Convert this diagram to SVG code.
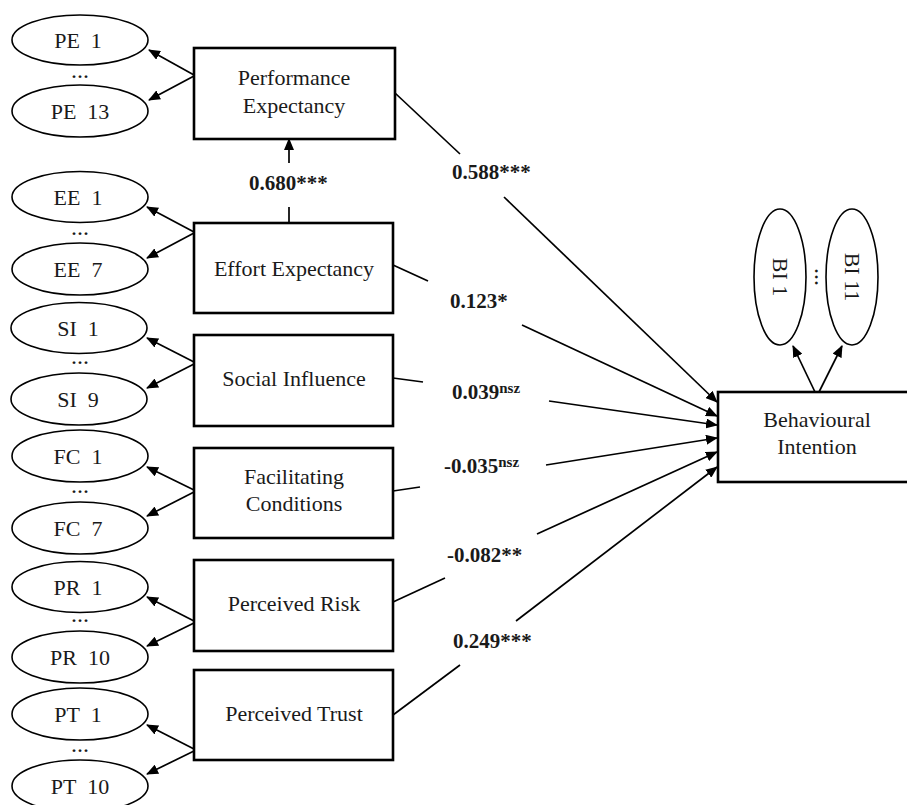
<svg xmlns="http://www.w3.org/2000/svg" width="907" height="805" viewBox="0 0 907 805">
<style>
.box{fill:#fff;stroke:#000;stroke-width:2.6}
.ell{fill:#fff;stroke:#000;stroke-width:1.6}
.t{font-family:"Liberation Serif","Times New Roman",serif;font-size:22px;fill:#1a1a1a;text-anchor:middle;white-space:pre}
.d{font-family:"Liberation Serif","Times New Roman",serif;font-size:24px;fill:#1a1a1a;text-anchor:middle}
.lab{font-family:"Liberation Serif","Times New Roman",serif;font-size:21px;font-weight:bold;fill:#1a1a1a}
.sup{font-size:15px}
.c{fill:none;stroke:#000;stroke-width:1.7}
</style>
<defs>
<marker id="ah" markerUnits="userSpaceOnUse" markerWidth="12" markerHeight="10" refX="11" refY="5" orient="auto" viewBox="0 0 12 10">
<path d="M0,0 L12,5 L0,10 z" fill="#000"/>
</marker>
</defs>
<rect width="907" height="805" fill="#fff"/>

<g id="connectors">
<!-- indicator arrows -->
<line class="c" x1="194" y1="75" x2="149" y2="50" marker-end="url(#ah)"/>
<line class="c" x1="194" y1="76" x2="149" y2="100" marker-end="url(#ah)"/>
<line class="c" x1="194" y1="232" x2="147" y2="207" marker-end="url(#ah)"/>
<line class="c" x1="194" y1="233" x2="147" y2="258" marker-end="url(#ah)"/>
<line class="c" x1="194" y1="362" x2="147" y2="338" marker-end="url(#ah)"/>
<line class="c" x1="194" y1="364" x2="147" y2="388" marker-end="url(#ah)"/>
<line class="c" x1="194" y1="490" x2="147" y2="467" marker-end="url(#ah)"/>
<line class="c" x1="194" y1="492" x2="147" y2="516" marker-end="url(#ah)"/>
<line class="c" x1="194" y1="621" x2="147" y2="597" marker-end="url(#ah)"/>
<line class="c" x1="194" y1="623" x2="147" y2="646" marker-end="url(#ah)"/>
<line class="c" x1="194" y1="749" x2="147" y2="725" marker-end="url(#ah)"/>
<line class="c" x1="194" y1="751" x2="147" y2="774" marker-end="url(#ah)"/>
<!-- BI indicators -->
<line class="c" x1="815" y1="392" x2="793" y2="346" marker-end="url(#ah)"/>
<line class="c" x1="819" y1="392" x2="842" y2="346" marker-end="url(#ah)"/>
<!-- EE -> PE -->
<line class="c" x1="289" y1="223" x2="289" y2="207"/>
<line class="c" x1="289" y1="163" x2="289" y2="139" marker-end="url(#ah)"/>
<!-- paths to BI -->
<line class="c" x1="395" y1="93" x2="460" y2="154"/>
<line class="c" x1="504" y1="197" x2="717" y2="402" marker-end="url(#ah)"/>
<line class="c" x1="393" y1="265" x2="428" y2="281"/>
<line class="c" x1="522" y1="325" x2="717" y2="416" marker-end="url(#ah)"/>
<line class="c" x1="393" y1="378" x2="423" y2="382"/>
<line class="c" x1="549" y1="401" x2="717" y2="425" marker-end="url(#ah)"/>
<line class="c" x1="393" y1="491" x2="420" y2="487"/>
<line class="c" x1="546" y1="465" x2="717" y2="438" marker-end="url(#ah)"/>
<line class="c" x1="393" y1="602" x2="445" y2="578"/>
<line class="c" x1="537" y1="534" x2="717" y2="452" marker-end="url(#ah)"/>
<line class="c" x1="393" y1="715" x2="460" y2="665"/>
<line class="c" x1="516" y1="621" x2="717" y2="467" marker-end="url(#ah)"/>
</g>

<g id="labels">
<text class="lab" x="249" y="190">0.680***</text>
<text class="lab" x="452" y="179">0.588***</text>
<text class="lab" x="450" y="308">0.123*</text>
<text class="lab" x="452" y="399">0.039<tspan class="sup" dy="-6">nsz</tspan></text>
<text class="lab" x="444" y="473">-0.035<tspan class="sup" dy="-6">nsz</tspan></text>
<text class="lab" x="447" y="562">-0.082**</text>
<text class="lab" x="453" y="648">0.249***</text>
</g>

<g id="PE">
<rect class="box" x="194" y="48" width="201" height="91"/>
<text class="t" x="294" y="85">Performance</text>
<text class="t" x="294" y="113">Expectancy</text>
</g>
<g id="PE-items">
<ellipse class="ell" cx="80" cy="40" rx="68" ry="25"/>
<text class="t" x="78" y="48">PE  1</text>
<text class="d" x="80" y="78">...</text>
<ellipse class="ell" cx="80" cy="111" rx="68" ry="26"/>
<text class="t" x="80" y="119">PE  13</text>
</g>

<g id="EE">
<rect class="box" x="194" y="223" width="199" height="90"/>
<text class="t" x="294" y="276">Effort Expectancy</text>
</g>
<g id="EE-items">
<ellipse class="ell" cx="80" cy="197" rx="68" ry="25.5"/>
<text class="t" x="78" y="205">EE  1</text>
<text class="d" x="80" y="235">...</text>
<ellipse class="ell" cx="80" cy="269" rx="68" ry="26"/>
<text class="t" x="78" y="277">EE  7</text>
</g>

<g id="SI">
<rect class="box" x="194" y="335" width="199" height="91"/>
<text class="t" x="294" y="386">Social Influence</text>
</g>
<g id="SI-items">
<ellipse class="ell" cx="79" cy="328" rx="68" ry="25.5"/>
<text class="t" x="78" y="336">SI  1</text>
<text class="d" x="80" y="364">...</text>
<ellipse class="ell" cx="79" cy="399" rx="68" ry="26"/>
<text class="t" x="78" y="407">SI  9</text>
</g>

<g id="FC">
<rect class="box" x="194" y="448" width="199" height="90"/>
<text class="t" x="294" y="484">Facilitating</text>
<text class="t" x="294" y="511">Conditions</text>
</g>
<g id="FC-items">
<ellipse class="ell" cx="80" cy="456" rx="68" ry="26"/>
<text class="t" x="78" y="464">FC  1</text>
<text class="d" x="80" y="493">...</text>
<ellipse class="ell" cx="80" cy="528" rx="68" ry="26"/>
<text class="t" x="78" y="536">FC  7</text>
</g>

<g id="PR">
<rect class="box" x="194" y="560" width="199" height="91"/>
<text class="t" x="294" y="611">Perceived Risk</text>
</g>
<g id="PR-items">
<ellipse class="ell" cx="80" cy="587" rx="68" ry="25.5"/>
<text class="t" x="78" y="595">PR  1</text>
<text class="d" x="80" y="622">...</text>
<ellipse class="ell" cx="80" cy="657" rx="68" ry="26"/>
<text class="t" x="80" y="665">PR  10</text>
</g>

<g id="PT">
<rect class="box" x="194" y="670" width="199" height="90"/>
<text class="t" x="294" y="721">Perceived Trust</text>
</g>
<g id="PT-items">
<ellipse class="ell" cx="80" cy="714" rx="68" ry="26"/>
<text class="t" x="78" y="722">PT  1</text>
<text class="d" x="80" y="752">...</text>
<ellipse class="ell" cx="80" cy="786" rx="68" ry="26"/>
<text class="t" x="80" y="794">PT  10</text>
</g>

<g id="BI">
<rect class="box" x="718" y="392" width="200" height="90"/>
<text class="t" x="817" y="427">Behavioural</text>
<text class="t" x="817" y="454">Intention</text>
</g>
<g id="BI-items">
<ellipse class="ell" cx="780" cy="277" rx="26" ry="68"/>
<text class="t" transform="translate(780,277) rotate(90)" x="0" y="7">BI 1</text>
<text class="d" transform="translate(816,277) rotate(90)" x="0" y="1">...</text>
<ellipse class="ell" cx="852" cy="277" rx="26" ry="68"/>
<text class="t" transform="translate(852,277) rotate(90)" x="0" y="7">BI 11</text>
</g>
</svg>
